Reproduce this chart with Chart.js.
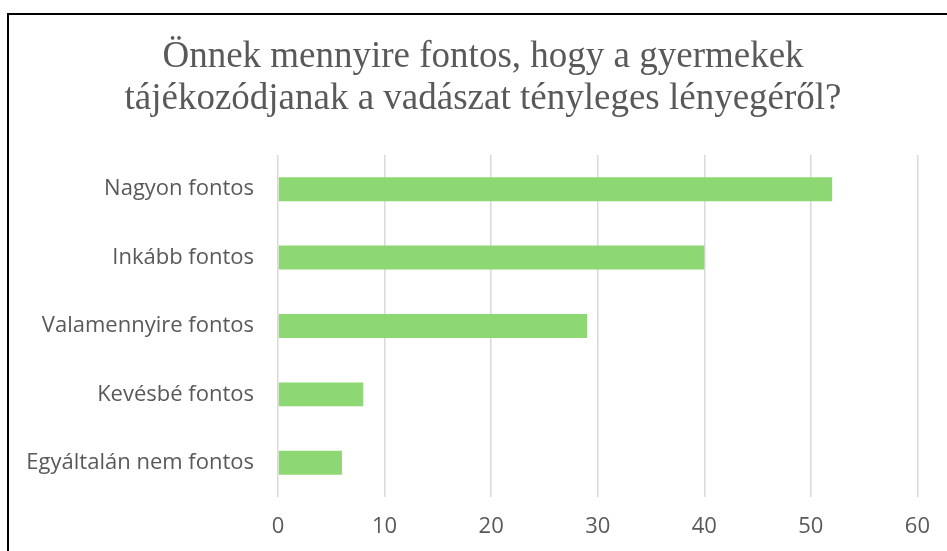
<!DOCTYPE html>
<html>
<head>
<meta charset="utf-8">
<script src="https://cdn.jsdelivr.net/npm/chart.js@4"></script>
<style>
  html, body { margin: 0; padding: 0; background: #fff; }
  #wrap { position: relative; width: 947px; height: 551px; overflow: hidden; }
  #frame {
    position: absolute; left: 7px; top: 13px; width: 1000px; height: 600px;
    border: 2px solid #000; box-sizing: border-box;
  }
  canvas { position: absolute; left: 0; top: 0; }
</style>
</head>
<body>
<div id="wrap">
  <div id="frame"></div>
  <canvas id="chart" width="947" height="551"></canvas>
</div>
<script>
const TITLE_LINES = [
  "Önnek mennyire fontos, hogy a gyermekek",
  "tájékozódjanak a vadászat tényleges lényegéről?"
];
const CATEGORIES = [
  "Nagyon fontos",
  "Inkább fontos",
  "Valamennyire fontos",
  "Kevésbé fontos",
  "Egyáltalán nem fontos"
];
const VALUES = [52, 40, 29, 8, 6];
const X_MIN = 0;
const X_MAX = 60;
const X_STEP = 10;

const TEXT_COLOR = "#595959";
const GRID_COLOR = "#d9d9d9";
const BAR_COLOR = "#8ed873";
const LABEL_FONT = "'Open Sans', 'Liberation Sans', Arial, sans-serif";

// the title sits a bit right of the canvas centre, so nudge its box
const titleShift = {
  id: "titleShift",
  afterLayout(chart) {
    if (chart.titleBlock) chart.titleBlock.left += 48;
  }
};

const ctx = document.getElementById("chart").getContext("2d");

new Chart(ctx, {
  type: "bar",
  data: {
    labels: CATEGORIES,
    datasets: [
      {
        data: VALUES,
        backgroundColor: BAR_COLOR,
        borderWidth: 0,
        categoryPercentage: 0.7,
        barPercentage: 0.5
      }
    ]
  },
  options: {
    indexAxis: "y",
    responsive: false,
    animation: false,
    layout: { padding: { left: 0, right: 29, top: 0, bottom: 0 } },
    plugins: {
      legend: { display: false },
      tooltip: { enabled: false },
      title: {
        display: true,
        text: TITLE_LINES,
        color: TEXT_COLOR,
        font: { family: "'Liberation Serif', 'DejaVu Serif', serif", size: 37, weight: "normal", lineHeight: 1.135 },
        padding: { top: 36, bottom: 35 }
      }
    },
    scales: {
      x: {
        min: X_MIN,
        max: X_MAX,
        ticks: {
          stepSize: X_STEP,
          color: TEXT_COLOR,
          font: { family: LABEL_FONT, size: 22 },
          padding: 17
        },
        grid: { color: GRID_COLOR, lineWidth: 1.5, drawTicks: false },
        border: { display: false },
        afterFit(scale) { scale.height = 54; }
      },
      y: {
        ticks: {
          color: TEXT_COLOR,
          font: { family: LABEL_FONT, size: 22 },
          padding: 24
        },
        grid: { display: false, drawTicks: false },
        border: { display: false },
        afterFit(scale) { scale.width = 278; }
      }
    }
  },
  plugins: [titleShift]
});
</script>
</body>
</html>
